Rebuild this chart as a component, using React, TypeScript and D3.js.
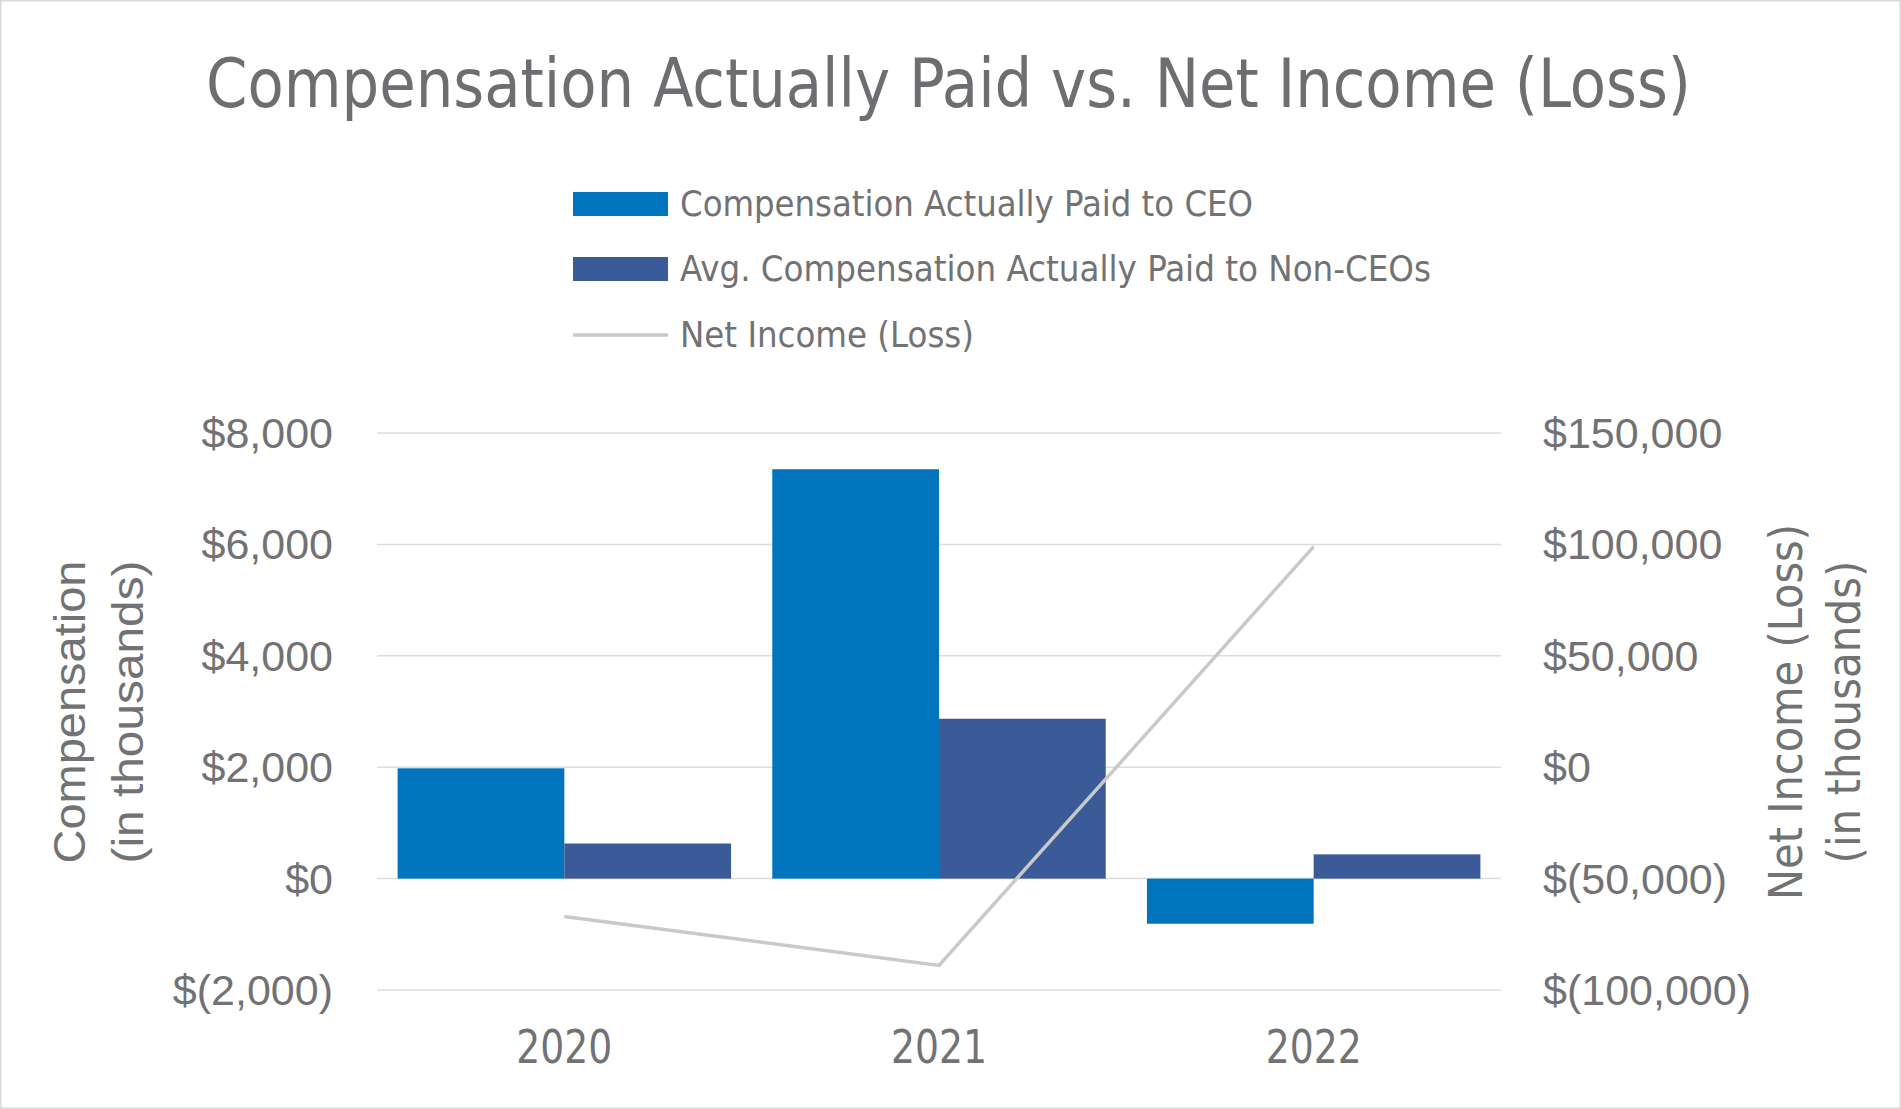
import React, { useEffect, useRef } from 'react';
import * as d3 from 'd3';

// Chart values (in thousands)
const years = ['2020', '2021', '2022'];
const ceoComp = [1980, 7350, -810];
const nonCeoComp = [630, 2870, 435];
const netIncome = [-67000, -89000, 99000];

const leftTicks = [-2000, 0, 2000, 4000, 6000, 8000];
const rightTicks = [-100000, -50000, 0, 50000, 100000, 150000];

const seriesNames = [
  'Compensation Actually Paid to CEO',
  'Avg. Compensation Actually Paid to Non-CEOs',
  'Net Income (Loss)',
];

const W = 1901;
const H = 1109;

const CEO_COLOR = '#0075be';
const NONCEO_COLOR = '#3a5a98';
const LINE_COLOR = '#c9c9c9';
const TEXT_COLOR = '#727274';
const GRID_COLOR = '#dcdcdc';

const CONDENSED = "'Liberation Sans Narrow', 'DejaVu Sans Condensed', 'Roboto', sans-serif";
const REGULAR = "'Liberation Sans', Arial, sans-serif";

const money = (v: number) => {
  const s = d3.format(',')(Math.abs(v));
  return v < 0 ? `$(${s})` : `$${s}`;
};

export default function App() {
  const ref = useRef<SVGSVGElement>(null);

  useEffect(() => {
    if (!ref.current) return;
    const svg = d3.select(ref.current);
    svg.selectAll('*').remove();

    // background + border
    svg.append('rect')
      .attr('x', 0.75).attr('y', 0.75)
      .attr('width', W - 1.5).attr('height', H - 1.5)
      .attr('fill', '#ffffff')
      .attr('stroke', '#d9d9d9')
      .attr('stroke-width', 1.5);

    const plot = { left: 377, right: 1501, top: 433, bottom: 990 };

    const x = d3.scaleBand()
      .domain(years)
      .range([plot.left, plot.right])
      .paddingInner(0.11)
      .paddingOuter(0.055);

    const half = x.bandwidth() / 2;

    const yL = d3.scaleLinear().domain([-2000, 8000]).range([plot.bottom, plot.top]);
    const yR = d3.scaleLinear().domain([-100000, 150000]).range([plot.bottom, plot.top]);

    // title
    svg.append('text')
      .attr('x', 948.5)
      .attr('y', 107)
      .attr('text-anchor', 'middle')
      .attr('font-family', CONDENSED)
      .attr('font-size', 68)
      .attr('fill', '#6d6e71')
      .attr('textLength', 1485)
      .attr('lengthAdjust', 'spacingAndGlyphs')
      .text('Compensation Actually Paid vs. Net Income (Loss)');

    // legend
    const legendY = [204, 269, 335];
    const legendW = [573, 751, 294];
    const lg = svg.append('g');
    seriesNames.forEach((name, i) => {
      if (i < 2) {
        lg.append('rect')
          .attr('x', 573).attr('y', legendY[i] - 12)
          .attr('width', 95).attr('height', 24)
          .attr('fill', i === 0 ? CEO_COLOR : NONCEO_COLOR);
      } else {
        lg.append('line')
          .attr('x1', 573).attr('x2', 668)
          .attr('y1', legendY[i]).attr('y2', legendY[i])
          .attr('stroke', LINE_COLOR)
          .attr('stroke-width', 3.5);
      }
      lg.append('text')
        .attr('x', 680)
        .attr('y', legendY[i] + 12)
        .attr('font-family', CONDENSED)
        .attr('font-size', 35)
        .attr('fill', TEXT_COLOR)
        .attr('textLength', legendW[i])
        .attr('lengthAdjust', 'spacingAndGlyphs')
        .text(name);
    });

    // gridlines
    svg.append('g')
      .selectAll('line')
      .data(leftTicks)
      .enter()
      .append('line')
        .attr('x1', plot.left).attr('x2', plot.right)
        .attr('y1', d => yL(d)).attr('y2', d => yL(d))
        .attr('stroke', GRID_COLOR)
        .attr('stroke-width', 1.5);

    // left axis labels
    svg.append('g')
      .selectAll('text')
      .data(leftTicks)
      .enter()
      .append('text')
        .attr('x', 333)
        .attr('y', d => yL(d))
        .attr('dy', '0.35em')
        .attr('text-anchor', 'end')
        .attr('font-family', REGULAR)
        .attr('font-size', 43)
        .attr('fill', TEXT_COLOR)
        .text(d => money(d));

    // right axis labels
    svg.append('g')
      .selectAll('text')
      .data(rightTicks)
      .enter()
      .append('text')
        .attr('x', 1543)
        .attr('y', d => yR(d))
        .attr('dy', '0.35em')
        .attr('text-anchor', 'start')
        .attr('font-family', REGULAR)
        .attr('font-size', 43)
        .attr('fill', TEXT_COLOR)
        .text(d => money(d));

    // bars
    const bars = svg.append('g');
    bars.selectAll('.ceo')
      .data(years)
      .enter()
      .append('rect')
        .attr('class', 'ceo')
        .attr('x', d => x(d) || 0)
        .attr('width', half)
        .attr('y', (d, i) => Math.min(yL(ceoComp[i]), yL(0)))
        .attr('height', (d, i) => Math.abs(yL(ceoComp[i]) - yL(0)))
        .attr('fill', CEO_COLOR);

    bars.selectAll('.nonceo')
      .data(years)
      .enter()
      .append('rect')
        .attr('class', 'nonceo')
        .attr('x', d => (x(d) || 0) + half)
        .attr('width', half)
        .attr('y', (d, i) => Math.min(yL(nonCeoComp[i]), yL(0)))
        .attr('height', (d, i) => Math.abs(yL(nonCeoComp[i]) - yL(0)))
        .attr('fill', NONCEO_COLOR);

    // net income line
    const line = d3.line<number>()
      .x((d, i) => (x(years[i]) || 0) + half)
      .y(d => yR(d));

    svg.append('path')
      .datum(netIncome)
      .attr('d', line)
      .attr('fill', 'none')
      .attr('stroke', LINE_COLOR)
      .attr('stroke-width', 3.5);

    // category labels
    svg.append('g')
      .selectAll('text')
      .data(years)
      .enter()
      .append('text')
        .attr('x', d => (x(d) || 0) + half)
        .attr('y', 1063)
        .attr('text-anchor', 'middle')
        .attr('font-family', CONDENSED)
        .attr('font-size', 46)
        .attr('fill', TEXT_COLOR)
        .attr('textLength', 96)
        .attr('lengthAdjust', 'spacingAndGlyphs')
        .text(d => d);

    // left axis title
    const lt = svg.append('g').attr('transform', 'translate(0,712) rotate(-90)');
    lt.append('text')
      .attr('x', 0).attr('y', 85)
      .attr('text-anchor', 'middle')
      .attr('font-family', REGULAR)
      .attr('font-size', 44)
      .attr('fill', TEXT_COLOR)
      .attr('textLength', 303)
      .attr('lengthAdjust', 'spacingAndGlyphs')
      .text('Compensation');
    lt.append('text')
      .attr('x', 0).attr('y', 143)
      .attr('text-anchor', 'middle')
      .attr('font-family', REGULAR)
      .attr('font-size', 44)
      .attr('fill', TEXT_COLOR)
      .attr('textLength', 303)
      .attr('lengthAdjust', 'spacingAndGlyphs')
      .text('(in thousands)');

    // right axis title
    const rt = svg.append('g').attr('transform', 'translate(0,712) rotate(-90)');
    rt.append('text')
      .attr('x', 0).attr('y', 1802)
      .attr('text-anchor', 'middle')
      .attr('font-family', CONDENSED)
      .attr('font-size', 46)
      .attr('fill', TEXT_COLOR)
      .attr('textLength', 376)
      .attr('lengthAdjust', 'spacingAndGlyphs')
      .text('Net Income (Loss)');
    rt.append('text')
      .attr('x', 0).attr('y', 1860)
      .attr('text-anchor', 'middle')
      .attr('font-family', CONDENSED)
      .attr('font-size', 46)
      .attr('fill', TEXT_COLOR)
      .attr('textLength', 303)
      .attr('lengthAdjust', 'spacingAndGlyphs')
      .text('(in thousands)');
  }, []);

  return (
    <svg
      ref={ref}
      width={W}
      height={H}
      style={{ position: 'absolute', left: 0, top: 0, display: 'block' }}
    />
  );
}
